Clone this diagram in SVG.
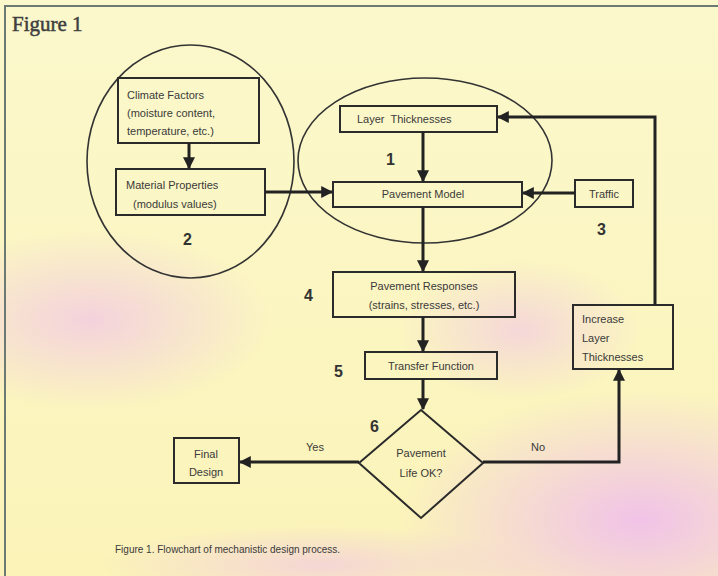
<svg xmlns="http://www.w3.org/2000/svg" width="718" height="576" viewBox="0 0 718 576">
<defs>
<style>
.box{fill:none;stroke:#2b2b2b;stroke-width:2}
.ell{fill:none;stroke:#333;stroke-width:1.6}
.ln{fill:none;stroke:#222;stroke-width:3}
.t{font-family:"Liberation Sans",Arial,sans-serif;font-size:11px;fill:#3a3a3a}
.n{font-family:"Liberation Sans",Arial,sans-serif;font-size:16px;font-weight:bold;fill:#333}
</style>
<marker id="ah" viewBox="0 0 10 10" refX="9" refY="5" markerWidth="4" markerHeight="4" orient="auto" markerUnits="strokeWidth">
<path d="M0,0 L10,5 L0,10 z" fill="#222"/>
</marker>
<radialGradient id="pk1" cx="0.5" cy="0.5" r="0.5">
<stop offset="0" stop-color="#f0c0ea" stop-opacity="0.95"/>
<stop offset="1" stop-color="#f0c0ea" stop-opacity="0"/>
</radialGradient>
<linearGradient id="bg" x1="0" y1="0" x2="0" y2="1">
<stop offset="0" stop-color="#fbf8cc"/>
<stop offset="1" stop-color="#fbf3b8"/>
</linearGradient>
</defs>
<rect x="0" y="0" width="718" height="576" fill="url(#bg)"/>
<ellipse cx="640" cy="520" rx="240" ry="130" fill="url(#pk1)"/>
<ellipse cx="90" cy="320" rx="180" ry="90" fill="url(#pk1)" opacity="0.7"/>
<ellipse cx="520" cy="330" rx="120" ry="70" fill="url(#pk1)" opacity="0.6"/>
<ellipse cx="320" cy="565" rx="220" ry="40" fill="url(#pk1)" opacity="0.6"/>
<rect x="5" y="6" width="720" height="580" fill="none" stroke="#6b7a72" stroke-width="2"/>
<text x="12" y="31" style="font-family:'Liberation Serif','Times New Roman',serif;font-size:21px;fill:#3f3f3f;stroke:#3f3f3f;stroke-width:0.5">Figure 1</text>

<g id="group2"><ellipse class="ell" cx="190.5" cy="161.5" rx="103.5" ry="116.5"/><text class="n" x="183" y="245">2</text></g>
<g id="group1"><ellipse class="ell" cx="425" cy="160.5" rx="127" ry="82.5"/><text class="n" x="386" y="165">1</text></g>

<g id="climate"><rect class="box" x="118" y="78" width="141" height="65"/>
<text class="t" x="127" y="99">Climate Factors</text>
<text class="t" x="127" y="117">(moisture content,</text>
<text class="t" x="127" y="135">temperature, etc.)</text></g>

<g id="material"><rect class="box" x="116" y="169" width="149" height="46"/>
<text class="t" x="126" y="189">Material Properties</text>
<text class="t" x="133" y="208">(modulus values)</text></g>

<g id="layer"><rect class="box" x="340" y="106" width="157" height="26"/>
<text class="t" x="357" y="123" xml:space="preserve">Layer  Thicknesses</text></g>

<g id="model"><rect class="box" x="333" y="182" width="189" height="25"/>
<text class="t" x="423" y="198" text-anchor="middle">Pavement Model</text></g>

<g id="traffic"><rect class="box" x="575" y="180" width="58" height="27"/>
<text class="t" x="604" y="198" text-anchor="middle">Traffic</text>
<text class="n" x="597" y="235">3</text></g>

<g id="responses"><rect class="box" x="333" y="272" width="182" height="45"/>
<text class="t" x="424" y="290" text-anchor="middle">Pavement Responses</text>
<text class="t" x="424" y="309" text-anchor="middle">(strains, stresses, etc.)</text>
<text class="n" x="304" y="301">4</text></g>

<g id="transfer"><rect class="box" x="365" y="352" width="132" height="27"/>
<text class="t" x="431" y="370" text-anchor="middle">Transfer Function</text>
<text class="n" x="334" y="377">5</text></g>

<g id="decision"><path class="box" d="M421,410 L483,463 L421,518 L359,463 z"/>
<text class="t" x="421" y="457" text-anchor="middle">Pavement</text>
<text class="t" x="421" y="477" text-anchor="middle">Life OK?</text>
<text class="n" x="370" y="432">6</text></g>

<g id="final"><rect class="box" x="174" y="438" width="65" height="45"/>
<text class="t" x="206" y="458" text-anchor="middle">Final</text>
<text class="t" x="206" y="476" text-anchor="middle">Design</text></g>

<g id="increase"><rect class="box" x="573" y="305" width="100" height="64"/>
<text class="t" x="582" y="323">Increase</text>
<text class="t" x="582" y="342">Layer</text>
<text class="t" x="582" y="361">Thicknesses</text></g>

<g id="connectors">
<line class="ln" x1="189" y1="143" x2="189" y2="168" marker-end="url(#ah)"/>
<line class="ln" x1="265" y1="192" x2="332" y2="192" marker-end="url(#ah)"/>
<line class="ln" x1="423" y1="132" x2="423" y2="181" marker-end="url(#ah)"/>
<line class="ln" x1="575" y1="193" x2="523" y2="193" marker-end="url(#ah)"/>
<line class="ln" x1="423" y1="207" x2="423" y2="271" marker-end="url(#ah)"/>
<line class="ln" x1="423" y1="317" x2="423" y2="351" marker-end="url(#ah)"/>
<line class="ln" x1="423" y1="379" x2="423" y2="409" marker-end="url(#ah)"/>
<line class="ln" x1="359" y1="462" x2="240" y2="462" marker-end="url(#ah)"/>
<polyline class="ln" points="483,462 619,462 619,370" marker-end="url(#ah)"/>
<polyline class="ln" points="655,305 655,117 498,117" marker-end="url(#ah)"/>
<text class="t" x="306" y="451">Yes</text>
<text class="t" x="531" y="451">No</text>
</g>
<text x="115" y="553" style="font-family:'Liberation Sans',Arial,sans-serif;font-size:10px;fill:#3a3a3a">Figure 1. Flowchart of mechanistic design process.</text>
</svg>
